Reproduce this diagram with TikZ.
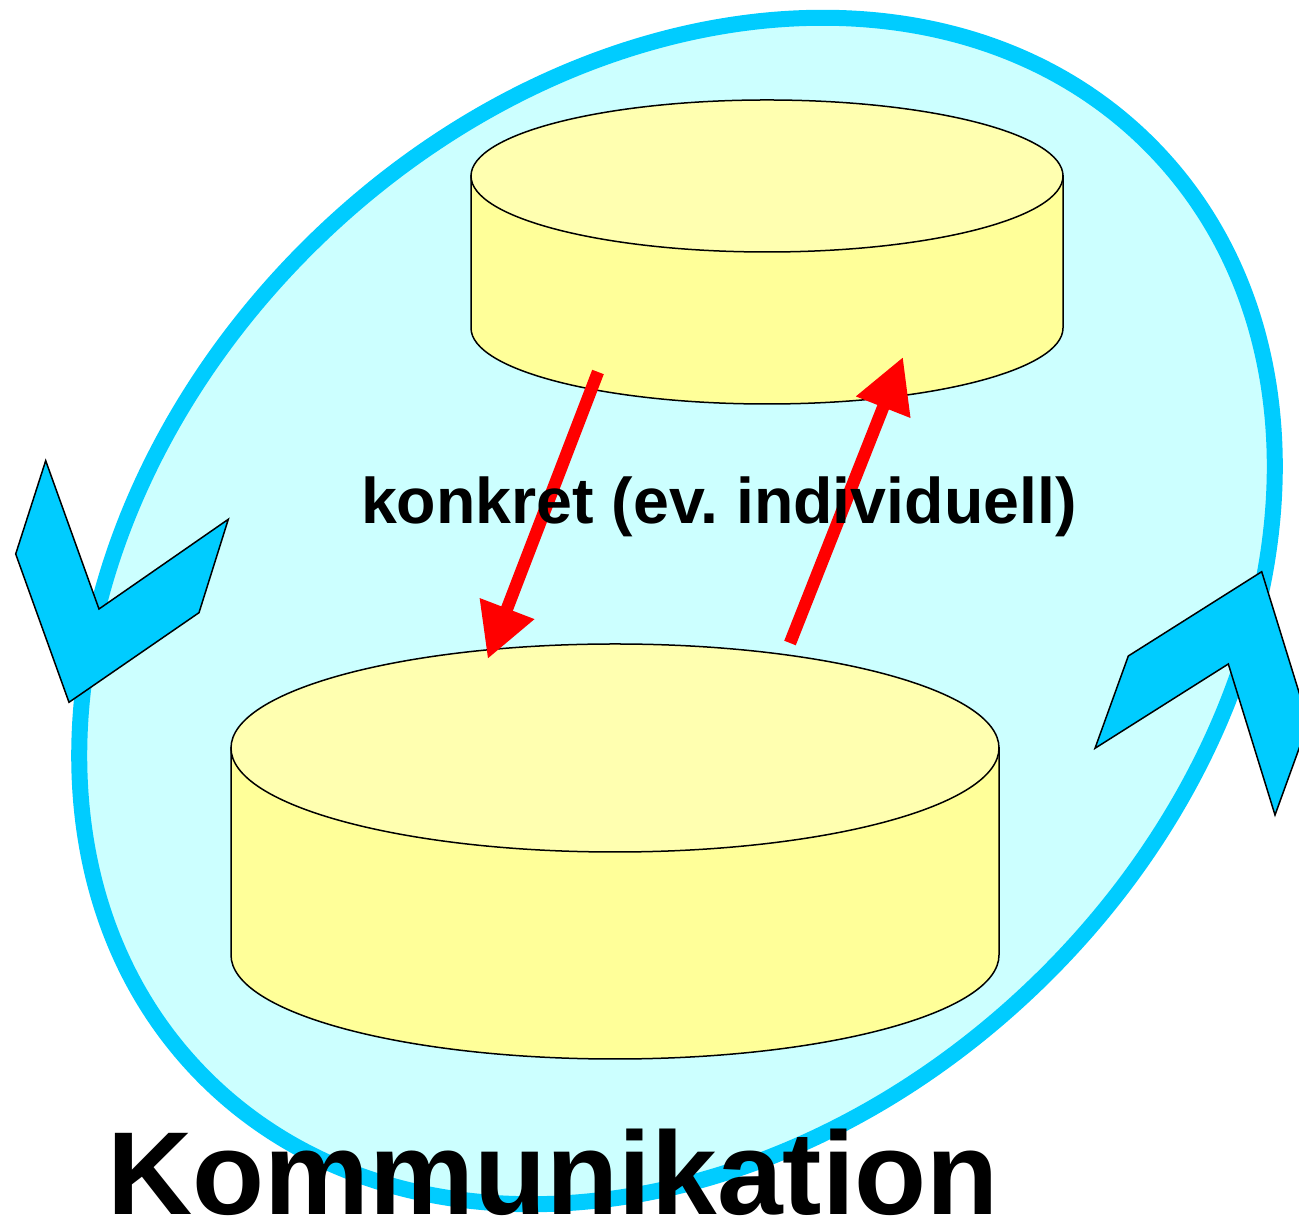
\documentclass[tikz,border=0pt]{standalone}
\usepackage{fontspec}
\setmainfont{Liberation Sans}
\usetikzlibrary{arrows.meta}
\definecolor{ringblue}{HTML}{00CCFF}
\definecolor{ringfill}{HTML}{CCFFFF}
\definecolor{cylside}{HTML}{FFFF99}
\definecolor{cyltop}{HTML}{FFFFB0}
\tikzset{
  cylbody/.style={fill=cylside, draw=black, line width=0.75pt},
  cyllid/.style={fill=cyltop, draw=black, line width=0.75pt},
  chevron/.style={fill=ringblue, draw=black, line width=0.75pt},
  flow/.style={draw=red, line width=6.2pt, -{Triangle[length=27pt,width=27.5pt]}},
}

\begin{document}
\begin{tikzpicture}[x=0.5pt,y=0.5pt] % Kommunikation als Kreislauf
\def\ring{(677,613) ellipse [x radius=664, y radius=518]}
\def\upperlid{(767,1048) ellipse [x radius=296, y radius=76]}
\def\lowerlid{(615,476) ellipse [x radius=384, y radius=104]}
    \useasboundingbox (0,0) rectangle (1299,1224);
    \begin{scope}[rotate around={44.1:(677,613)}]
        \fill[ringfill] \ring;
        \draw[ringblue, line width=8pt] \ring;
    \end{scope}
    % Pfeilspitzen am Ring
    \draw[chevron] (45.7,763.3) -- (15.7,670) -- (69,521.7) -- (199,611.3) -- (228.3,704.7) -- (99,615) -- cycle;
    \draw[chevron] (1261.7,652.3) -- (1128.3,568) -- (1095,475.7) -- (1228.3,560) -- (1275,409) -- (1308.4,501.3) -- cycle;
    % Zylinder
    \draw[cylbody] (471,1048) -- (471,896) arc[start angle=180, end angle=360, x radius=296, y radius=76] -- (1063,1048) -- cycle;
    \draw[cyllid] \upperlid;
    \draw[cylbody] (231,476) -- (231,269) arc[start angle=180, end angle=360, x radius=384, y radius=104] -- (999,476) -- cycle;
    \draw[cyllid] \lowerlid;
    \coordinate (down start) at (598,852);
    \coordinate (down end) at (487.7,565);
    \coordinate (up start) at (790,581);
    \coordinate (up end) at (903,867);
    \draw[flow] (down start) -- (down end);
    \draw[flow] (up start) -- (up end);
    \node[anchor=base west, inner sep=0, font=\bfseries\fontsize{32.25pt}{38pt}\selectfont] (konkret) at (360.6,700) {konkret (ev.\ individuell)};
    \node[anchor=base west, inner sep=0, font=\bfseries\fontsize{59pt}{70pt}\selectfont] (kommunikation) at (107,9) {Kommunikation};
\end{tikzpicture}
\end{document}
